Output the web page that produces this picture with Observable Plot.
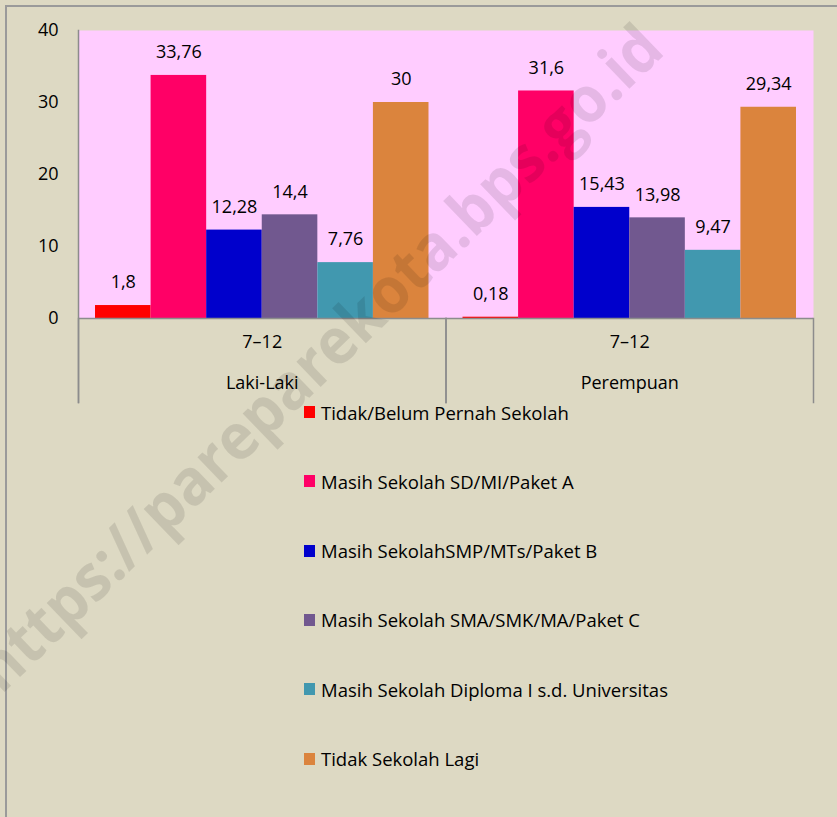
<!DOCTYPE html>
<html>
<head>
<meta charset="utf-8">
<script src="https://cdn.jsdelivr.net/npm/d3@7"></script>
<script src="https://cdn.jsdelivr.net/npm/@observablehq/plot@0.6"></script>
<style>
  html, body { margin: 0; padding: 0; background: #ddd9c3; }
  #fig { position: relative; width: 837px; height: 817px; background: #ddd9c3; overflow: hidden; font-family: "Open Sans", sans-serif; }
  #border { position: absolute; left: 5px; top: 5px; width: 900px; height: 900px; border-top: 2px solid #9a9a9a; border-left: 2px solid #9a9a9a; }
  #chart { position: absolute; left: 0; top: 0; }
  #legend { position: absolute; left: 0; top: 0; }
  .lg { position: absolute; left: 304px; display: flex; align-items: center; font-size: 18.5px; color: #000; white-space: nowrap; }
  .sw { width: 11px; height: 12px; margin-right: 6px; }
  #wm { position: absolute; left: 0; top: 0; pointer-events: none; }
</style>
</head>
<body>
<div id="fig">
  <div id="border"></div>
  <div id="chart"></div>
  <div id="legend"></div>
  <svg id="wm" width="837" height="817"></svg>
</div>
<script>
const groups = ["Laki-Laki", "Perempuan"];
const ageLabel = "7–12";
const categories = [
  "Tidak/Belum Pernah Sekolah",
  "Masih Sekolah SD/MI/Paket A",
  "Masih SekolahSMP/MTs/Paket B",
  "Masih Sekolah SMA/SMK/MA/Paket C",
  "Masih Sekolah Diploma I s.d. Universitas",
  "Tidak Sekolah Lagi"
];
const lakiValues = [1.8, 33.76, 12.28, 14.4, 7.76, 30];
const perempuanValues = [0.18, 31.6, 15.43, 13.98, 9.47, 29.34];
const colors = ["#ff0000", "#ff0066", "#0000cc", "#71588f", "#4198af", "#db843d"];
const yTicks = [0, 10, 20, 30, 40];
const watermark = "https://pareparekota.bps.go.id";

const seriesByGroup = [lakiValues, perempuanValues];
const rows = groups.flatMap((g, gi) =>
  categories.map((c, ci) => ({ group: g, category: c, value: seriesByGroup[gi][ci] }))
);
const fmt = v => String(v).replace(".", ",");
const lineColor = "#8c8c8c";

const chart = Plot.plot({
  width: 837,
  height: 405,
  marginLeft: 78,
  marginRight: 24,
  marginTop: 30,
  marginBottom: 87,
  style: { background: "transparent", fontFamily: "'Open Sans', sans-serif", fontSize: "18px", color: "#000", overflow: "visible" },
  fx: { domain: groups, paddingInner: 0, paddingOuter: 0, round: false, axis: null },
  x: { domain: categories, paddingInner: 0, paddingOuter: 0.306, round: false, axis: null },
  y: { domain: [0, 40], ticks: yTicks, tickSize: 0, tickPadding: 20, label: null },
  color: { domain: categories, range: colors },
  marks: [
    Plot.frame({ fill: "#ffccff" }),
    Plot.barY(rows, { fx: "group", x: "category", y: "value", fill: "category" }),
    Plot.text(rows, { fx: "group", x: "category", y: "value", text: d => fmt(d.value), dy: -23, fill: "#000" }),
    Plot.ruleY([0], { stroke: lineColor, strokeWidth: 1.5 }),
    Plot.frame({ anchor: "left", insetTop: 288, insetBottom: -84, stroke: lineColor, strokeWidth: 1.5 }),
    Plot.frame({ anchor: "right", insetTop: 288, insetBottom: -84, stroke: lineColor, strokeWidth: 1.5 }),
    Plot.frame({ anchor: "left", facet: "super", insetBottom: -84, stroke: lineColor, strokeWidth: 1.5 }),
    Plot.text(groups, { fx: d => d, text: () => ageLabel, frameAnchor: "bottom", dy: 29, fill: "#000" }),
    Plot.text(groups, { fx: d => d, text: d => d, frameAnchor: "bottom", dy: 70, fill: "#000" })
  ]
});
document.getElementById("chart").appendChild(chart);

const legend = document.getElementById("legend");
categories.forEach((c, i) => {
  const row = document.createElement("div");
  row.className = "lg";
  row.style.top = (412 + i * 69.3 - 12) + "px";
  row.style.height = "24px";
  const sw = document.createElement("div");
  sw.className = "sw";
  sw.style.background = colors[i];
  const tx = document.createElement("span");
  tx.textContent = c;
  row.appendChild(sw);
  row.appendChild(tx);
  legend.appendChild(row);
});

const wm = d3.select("#wm");
wm.append("text")
  .attr("transform", "translate(334,374) rotate(-44)")
  .attr("text-anchor", "middle")
  .attr("font-family", "'Open Sans', sans-serif")
  .attr("font-weight", "bold")
  .attr("font-size", 64)
  .attr("textLength", 925)
  .attr("lengthAdjust", "spacingAndGlyphs")
  .attr("fill", "#000")
  .attr("fill-opacity", 0.1)
  .text(watermark);
</script>
</body>
</html>
